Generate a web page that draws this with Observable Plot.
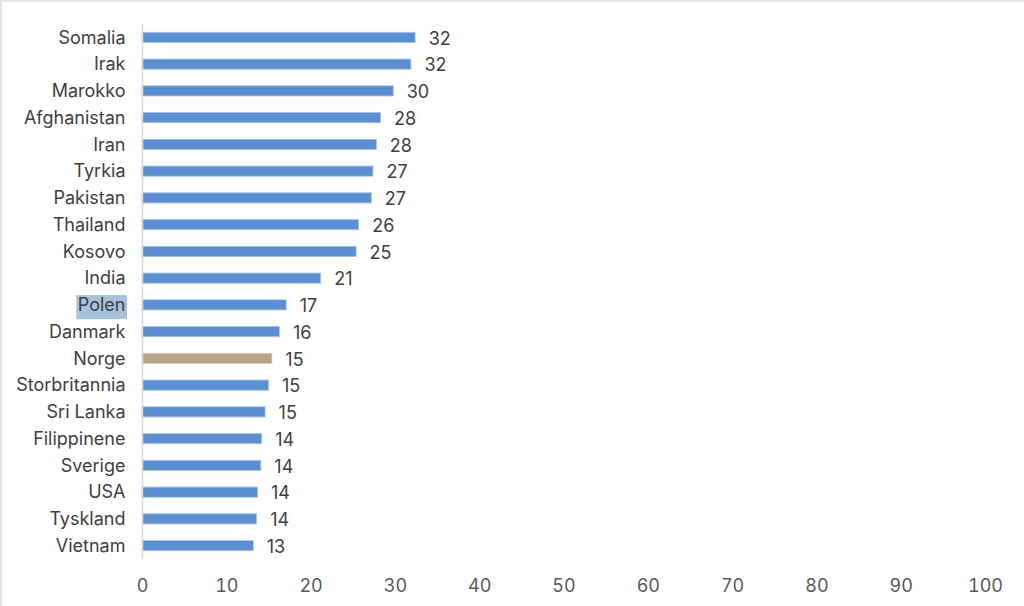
<!DOCTYPE html>
<html>
<head>
<meta charset="utf-8">
<script src="https://cdn.jsdelivr.net/npm/d3@7"></script>
<script src="https://cdn.jsdelivr.net/npm/@observablehq/plot@0.6"></script>
<style>
  html, body { margin: 0; padding: 0; background: #fff; }
  #wrap { position: relative; width: 1024px; height: 606px; overflow: hidden; }
  #frame { position: absolute; left: 0; top: 0; width: 1030px; height: 610px; box-sizing: border-box;
           border-left: 2px solid #e3e3e3; border-top: 2px solid #e8e8e8; pointer-events: none; }
</style>
</head>
<body>
<div id="wrap"><div id="frame"></div></div>
<script>
const countries = ["Somalia","Irak","Marokko","Afghanistan","Iran","Tyrkia","Pakistan","Thailand","Kosovo","India","Polen","Danmark","Norge","Storbritannia","Sri Lanka","Filippinene","Sverige","USA","Tyskland","Vietnam"];
const values = [32.4,31.9,29.8,28.3,27.8,27.4,27.2,25.7,25.4,21.2,17.1,16.3,15.4,15.0,14.6,14.2,14.1,13.7,13.6,13.2];
const xTicks = [0,10,20,30,40,50,60,70,80,90,100];
const highlightCountry = "Norge";
const selectedLabel = "Polen";

const data = countries.map((c, i) => ({country: c, value: values[i]}));
const font = "Inter, 'Open Sans', sans-serif";
const barInset = 8.3;

const chart = Plot.plot({
  width: 1024,
  height: 606,
  marginLeft: 142,
  marginRight: 39,
  marginTop: 24,
  marginBottom: 47,
  style: {fontFamily: font, fontSize: "18px", background: "transparent"},
  x: {domain: [0, 100], ticks: xTicks, label: null},
  y: {domain: countries, padding: 0, round: false, label: null},
  marks: [
    Plot.barX(data, {
      x: "value", y: "country",
      insetTop: barInset, insetBottom: barInset,
      fill: d => d.country === highlightCountry ? "#b9a48a" : "#5a8fd4",
      stroke: d => d.country === highlightCountry ? "#d4c7b5" : "#a9c4ea",
      strokeWidth: 0.8
    }),
    Plot.ruleX([0], {stroke: "#d9d9d9", strokeWidth: 1.5}),
    Plot.text(data, {
      x: "value", y: "country",
      text: d => d3.format(".0f")(d.value),
      textAnchor: "start", dx: 13, dy: 1,
      fill: "#404040", fontSize: 18
    }),
    Plot.axisY({tickSize: 0, tickPadding: 17, fill: "#404040", fontSize: 18, label: null}),
    Plot.axisX({ticks: xTicks, tickSize: 0, tickPadding: 20, fill: "#595959", fontSize: 18, label: null})
  ]
});

document.getElementById("wrap").insertBefore(chart, document.getElementById("frame"));

// highlight selected label background, derived from rendered text box
d3.select(chart).selectAll("text").each(function() {
  if (this.textContent === selectedLabel && this.getAttribute("text-anchor") !== "start") {
    const bb = this.getBBox();
    const ctm = this.getAttribute("transform");
    const rect = document.createElementNS("http://www.w3.org/2000/svg", "rect");
    rect.setAttribute("x", bb.x - 1.5);
    rect.setAttribute("y", bb.y + 1);
    rect.setAttribute("width", bb.width + 3);
    rect.setAttribute("height", bb.height + 3);
    rect.setAttribute("fill", "#a4c2dc");
    if (ctm) rect.setAttribute("transform", ctm);
    this.parentNode.insertBefore(rect, this);
  }
});
</script>
</body>
</html>
